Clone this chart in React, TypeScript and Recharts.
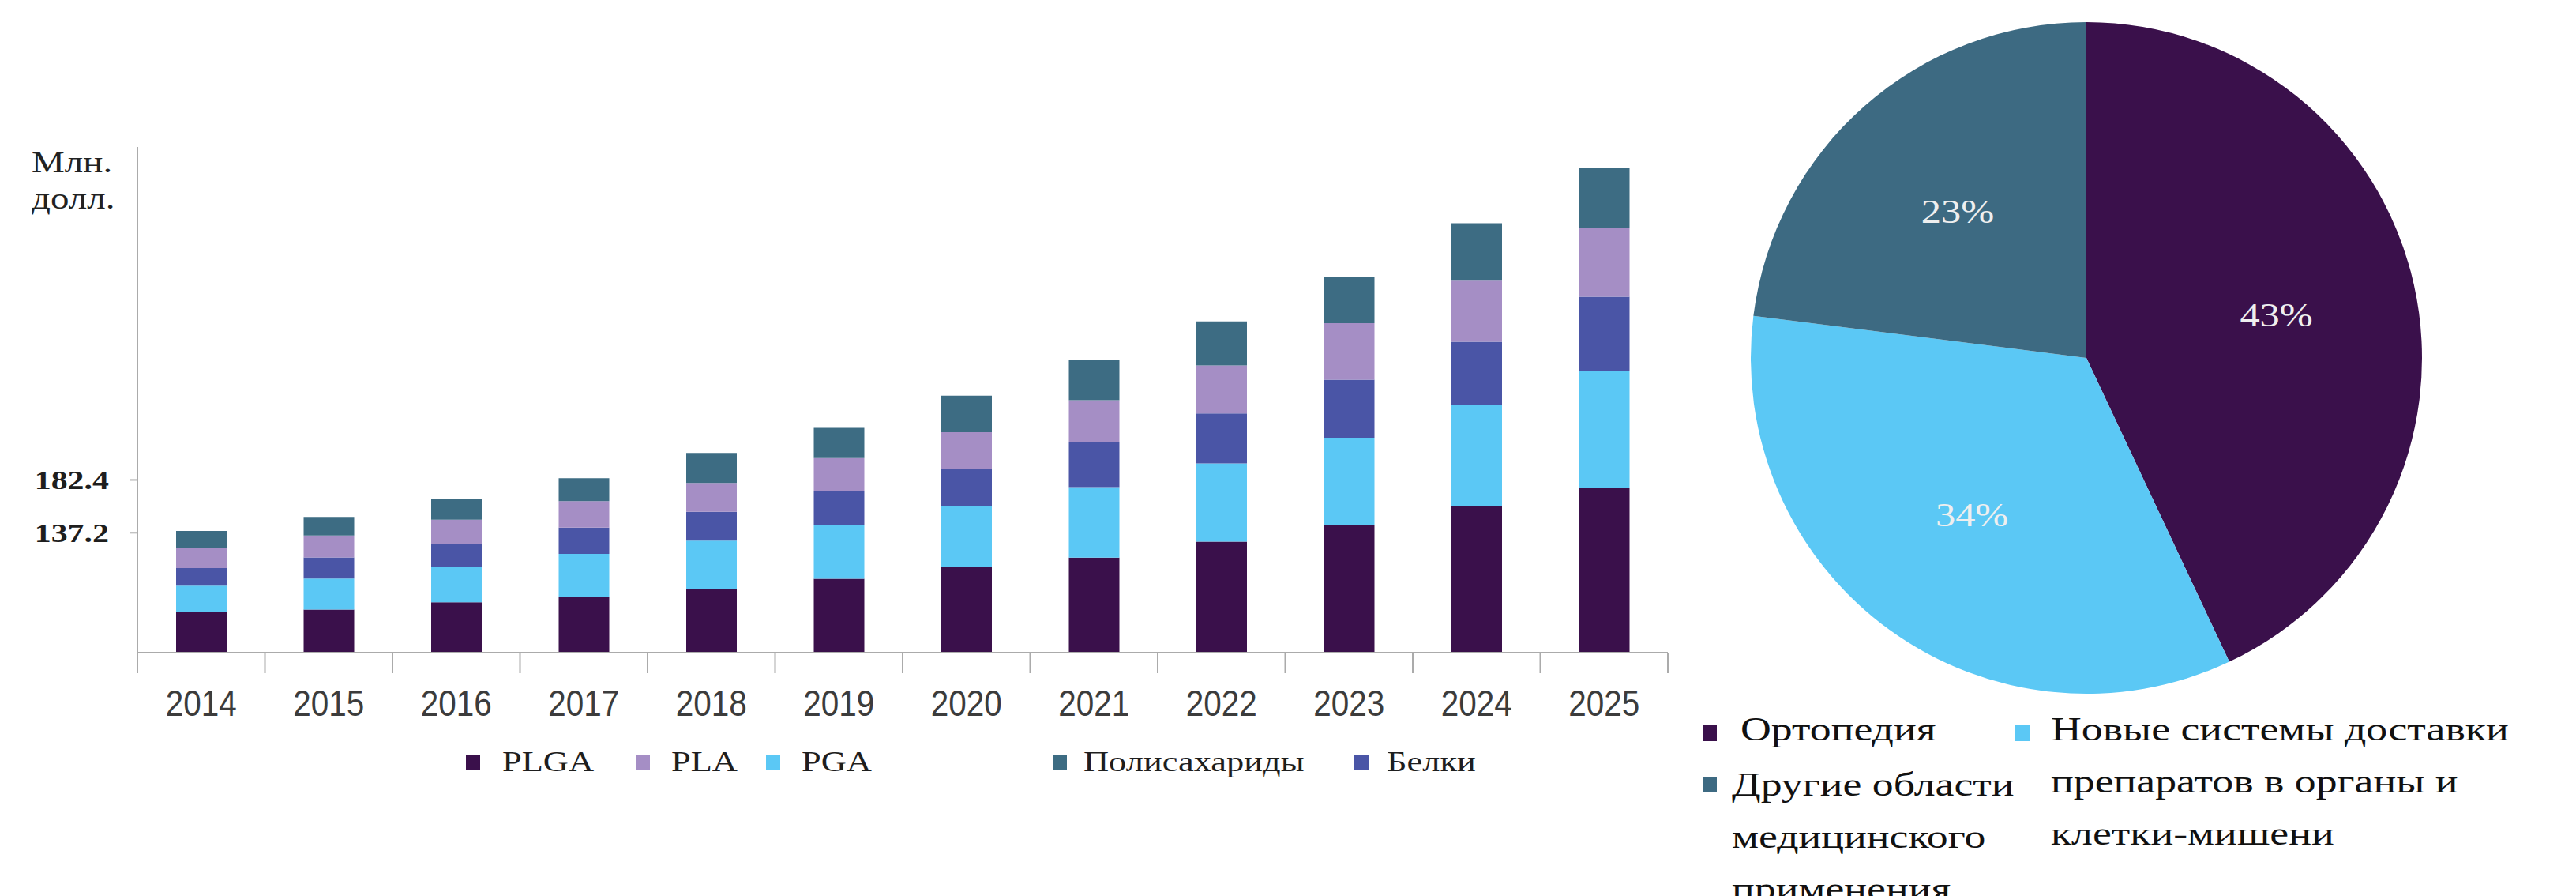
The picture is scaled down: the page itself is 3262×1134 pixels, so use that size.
import { BarChart, Bar, XAxis, YAxis, PieChart, Pie, Cell } from "recharts";

// bar chart data (Млн. долл.)
const years = ["2014", "2015", "2016", "2017", "2018", "2019", "2020", "2021", "2022", "2023", "2024", "2025"];
const plga = [69.3, 71.4, 77.7, 82.3, 88.9, 97.9, 107.6, 116.0, 129.6, 143.8, 159.8, 175.4];
const pga = [22.6, 26.6, 29.9, 36.8, 41.6, 46.1, 52.2, 60.3, 67.0, 74.8, 86.9, 100.5];
const belki = [15.1, 18.1, 19.9, 22.6, 24.7, 29.3, 31.7, 38.2, 42.8, 49.7, 54.0, 63.4];
const pla = [17.2, 18.7, 20.8, 22.6, 24.7, 27.8, 31.7, 36.1, 41.0, 48.3, 52.2, 58.8];
const polysaccharides = [14.5, 15.9, 17.5, 19.6, 25.7, 25.9, 31.3, 34.3, 37.7, 39.8, 49.2, 51.3];
const yTicks = [137.2, 182.4];
const yDomain = [34.6, 467.4];

// pie data (%)
const pieNames = [
  "Ортопедия",
  "Новые системы доставки\nпрепаратов в органы и\nклетки-мишени",
  "Другие области\nмедицинского\nприменения",
];
const pieValues = [43, 34, 23];

const C_PLGA = "#3a104b";
const C_PGA = "#5bc8f5";
const C_BELKI = "#4a55a6";
const C_PLA = "#a58ec5";
const C_POLY = "#3d6c83";
const pieColors = [C_PLGA, C_PGA, "#3d6a82"];

const barData = years.map((year, i) => ({
  year,
  plga: plga[i],
  pga: pga[i],
  belki: belki[i],
  pla: pla[i],
  poly: polysaccharides[i],
}));
const pieData = pieNames.map((name, i) => ({ name, value: pieValues[i] }));

const PLOT_LEFT = 174;
const PLOT_RIGHT = 2112;
const PLOT_TOP = 186;
const PLOT_BOTTOM = 826;
const BAND = (PLOT_RIGHT - PLOT_LEFT) / years.length;
const AXIS_GREY = "#ababab";
const SERIF = '"Liberation Serif", "Times New Roman", serif';

const barLegend = [
  { label: "PLGA", color: C_PLGA, sq: 590, txt: 636 },
  { label: "PLA", color: C_PLA, sq: 805, txt: 850 },
  { label: "PGA", color: C_PGA, sq: 970, txt: 1015 },
  { label: "Полисахариды", color: C_POLY, sq: 1333, txt: 1372 },
  { label: "Белки", color: C_BELKI, sq: 1715, txt: 1756 },
];

const pieLegend = [
  { idx: 0, sq: [2156, 918], txt: [2204, 923] },
  { idx: 1, sq: [2552, 918], txt: [2597, 923] },
  { idx: 2, sq: [2156, 983], txt: [2193, 993] },
];

function YearTick(props: any) {
  const { x, payload, index } = props;
  const last = index === years.length - 1;
  return (
    <g>
      <line x1={x - BAND / 2} x2={x - BAND / 2} y1={PLOT_BOTTOM} y2={PLOT_BOTTOM + 26} stroke={AXIS_GREY} strokeWidth={2} />
      {last && (
        <line x1={x + BAND / 2} x2={x + BAND / 2} y1={PLOT_BOTTOM} y2={PLOT_BOTTOM + 26} stroke={AXIS_GREY} strokeWidth={2} />
      )}
      <text
        transform={`translate(${x}, 890) scale(0.88, 1)`}
        textAnchor="middle"
        dominantBaseline="central"
        fontFamily='"Liberation Sans", Arial, sans-serif'
        fontSize={46}
        fill="#3c3c3c"
      >
        {payload.value}
      </text>
    </g>
  );
}

function ValueTick(props: any) {
  const { y, payload } = props;
  return (
    <text
      transform={`translate(138, ${y}) scale(1.27, 1)`}
      textAnchor="end"
      dominantBaseline="central"
      fontFamily={SERIF}
      fontWeight="bold"
      fontSize={33}
      fill="#1e1e1e"
    >
      {payload.value}
    </text>
  );
}

const RAD = Math.PI / 180;
function pieLabel(props: any) {
  const { cx, cy, midAngle, outerRadius, value } = props;
  const r = outerRadius * 0.58;
  const x = cx + r * Math.cos(-midAngle * RAD);
  const y = cy + r * Math.sin(-midAngle * RAD);
  return (
    <text
      transform={`translate(${x}, ${y}) scale(1.2, 1)`}
      textAnchor="middle"
      dominantBaseline="central"
      fontFamily={SERIF}
      fontSize={42}
      fill="#efefef"
    >
      {`${value}%`}
    </text>
  );
}

export default function App() {
  return (
    <div style={{ position: "absolute", left: 0, top: 0, width: 3262, height: 1134, background: "#fff", overflow: "hidden", fontFamily: SERIF }}>
      <div style={{ position: "absolute", left: 40, top: 183, lineHeight: "46px", fontSize: 37, color: "#222", whiteSpace: "pre-line", transform: "scaleX(1.27)", transformOrigin: "left top" }}>
        {"Млн.\nдолл."}
      </div>

      <div style={{ position: "absolute", left: 0, top: 0 }}>
        <BarChart
          width={2200}
          height={1134}
          data={barData}
          margin={{ top: PLOT_TOP, left: PLOT_LEFT - 100, right: 2200 - PLOT_RIGHT, bottom: 1134 - PLOT_BOTTOM - 100 }}
          barSize={64}
        >
          <XAxis dataKey="year" height={100} axisLine={{ stroke: AXIS_GREY, strokeWidth: 2 }} tickLine={false} tick={<YearTick />} interval={0} />
          <YAxis
            width={100}
            domain={yDomain}
            allowDataOverflow
            ticks={yTicks}
            interval={0}
            tickSize={9}
            axisLine={{ stroke: AXIS_GREY, strokeWidth: 2 }}
            tickLine={{ stroke: AXIS_GREY, strokeWidth: 2 }}
            tick={<ValueTick />}
          />
          <Bar dataKey="plga" stackId="a" fill={C_PLGA} isAnimationActive={false} />
          <Bar dataKey="pga" stackId="a" fill={C_PGA} isAnimationActive={false} />
          <Bar dataKey="belki" stackId="a" fill={C_BELKI} isAnimationActive={false} />
          <Bar dataKey="pla" stackId="a" fill={C_PLA} isAnimationActive={false} />
          <Bar dataKey="poly" stackId="a" fill={C_POLY} isAnimationActive={false} />
        </BarChart>
      </div>

      {barLegend.map((it) => (
        <div key={it.label}>
          <div style={{ position: "absolute", left: it.sq, top: 955, width: 18, height: 20, background: it.color }} />
          <div style={{ position: "absolute", left: it.txt, top: 940, lineHeight: "50px", fontSize: 35, color: "#1e1e1e", whiteSpace: "nowrap", transform: "scaleX(1.27)", transformOrigin: "left center" }}>
            {it.label}
          </div>
        </div>
      ))}

      <div style={{ position: "absolute", left: 2180, top: 0 }}>
        <PieChart width={920} height={900}>
          <Pie
            data={pieData}
            dataKey="value"
            cx={457}
            cy={448}
            outerRadius={425}
            startAngle={90}
            endAngle={-270}
            stroke="none"
            label={pieLabel}
            labelLine={false}
            isAnimationActive={false}
          >
            {pieData.map((d, i) => (
              <Cell key={d.name} fill={pieColors[i]} />
            ))}
          </Pie>
        </PieChart>
      </div>

      {pieLegend.map((it) => (
        <div key={it.idx}>
          <div style={{ position: "absolute", left: it.sq[0], top: it.sq[1], width: 18, height: 20, background: pieColors[it.idx] }} />
          <div style={{ position: "absolute", left: it.txt[0], top: it.txt[1] - 33, lineHeight: "66px", fontSize: 42, color: "#111", whiteSpace: "pre-line", transform: "scaleX(1.28)", transformOrigin: "left top" }}>
            {pieNames[it.idx]}
          </div>
        </div>
      ))}
    </div>
  );
}
